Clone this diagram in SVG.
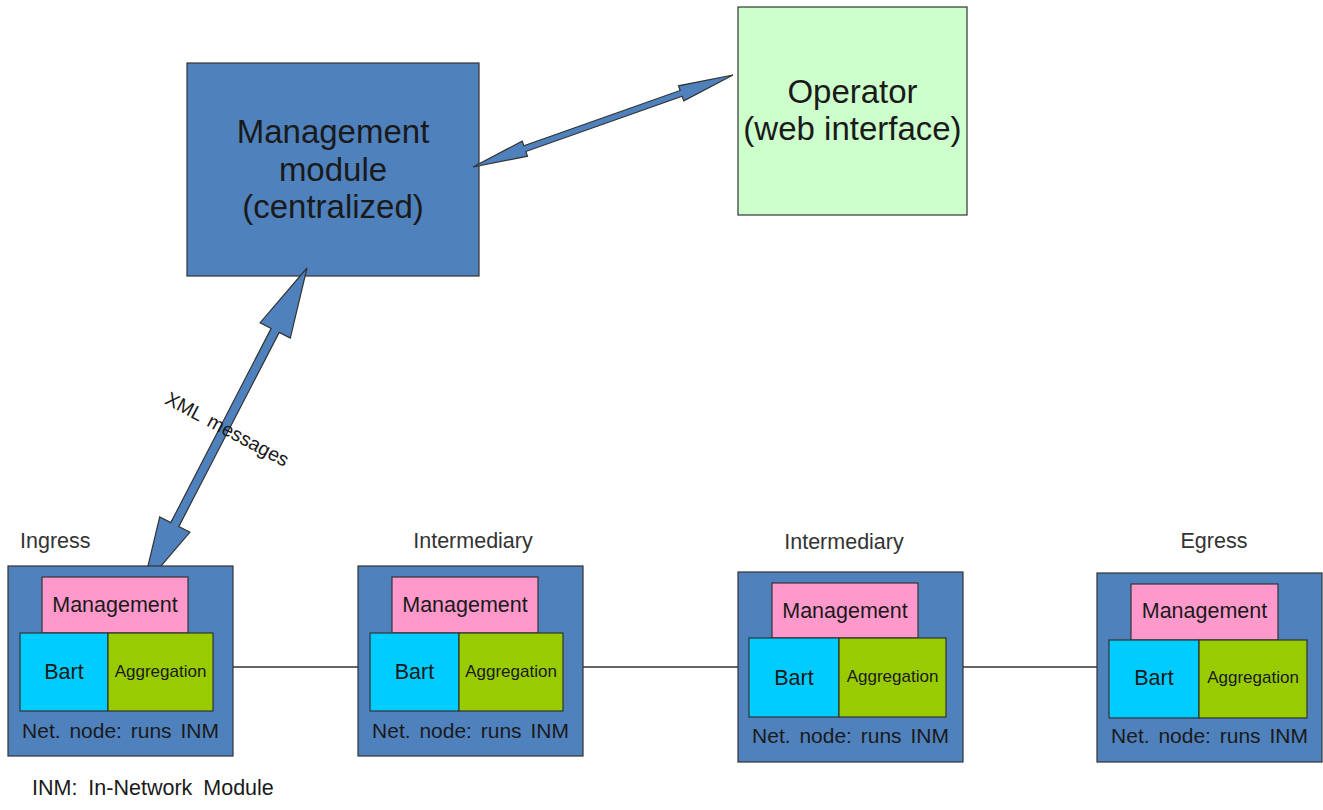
<svg xmlns="http://www.w3.org/2000/svg" width="1323" height="810" viewBox="0 0 1323 810">
<style>
text{font-family:"Liberation Sans",Arial,sans-serif;fill:#1a1a1a}
.outer{fill:#4f81bd;stroke:#333;stroke-width:1.2}
.mg{fill:#ff99cc;stroke:#333;stroke-width:1.2}
.bart{fill:#00ccff;stroke:#333;stroke-width:1.2}
.agg{fill:#99cc00;stroke:#333;stroke-width:1.2}
.t21{font-size:21.5px;text-anchor:middle}
.t17{font-size:17px;text-anchor:middle}
.net{font-size:21px;text-anchor:middle;word-spacing:3px}
.lbl{font-size:21.5px;fill:#333}
.big{font-size:33px;text-anchor:middle}
.link{stroke:#333;stroke-width:1.5;fill:none}
.arrow{fill:#4f81bd;stroke:#333;stroke-width:1.2;stroke-linejoin:miter}
</style>
<rect width="1323" height="810" fill="#fff"/>

<g id="connectors">
<line class="link" x1="233" y1="667" x2="358" y2="667"/>
<line class="link" x1="583" y1="667" x2="738" y2="667"/>
<line class="link" x1="963" y1="667" x2="1097" y2="667"/>
</g>

<g id="management-module">
<rect x="187" y="63" width="292" height="213" class="outer"/>
<text class="big" x="333" y="143">Management</text>
<text class="big" x="333" y="181">module</text>
<text class="big" x="333" y="218">(centralized)</text>
</g>

<g id="operator">
<rect x="738" y="7" width="229" height="208" fill="#ccffcc" stroke="#333" stroke-width="1.2"/>
<text class="big" x="852.5" y="103">Operator</text>
<text class="big" x="852.5" y="140">(web interface)</text>
</g>

<g id="arrows">
<polygon class="arrow" points="473,167 527.5,156.2 525.85,151.5 682.15,96.2 683.8,100.9 733,75 678.5,85.8 680.15,90.5 523.85,145.8 522.2,141.1"/>
<polygon class="arrow" points="143,587 189.9,532.3 178.8,526.6 279.2,332.4 290.3,338.1 307,268 260.1,322.7 271.2,328.4 170.8,522.6 159.7,516.9"/>
<text x="224" y="435" font-size="19.5" text-anchor="middle" transform="rotate(28 224 435)" word-spacing="3">XML messages</text>
</g>

<g id="node-ingress">
<text class="lbl" x="20" y="548">Ingress</text>
<rect x="8" y="566" width="225" height="190" class="outer"/>
<rect x="42" y="577" width="146" height="56" class="mg"/>
<rect x="20" y="633" width="88" height="78" class="bart"/>
<rect x="108" y="633" width="105" height="78" class="agg"/>
<text class="t21" x="115" y="612">Management</text>
<text class="t21" x="64" y="679">Bart</text>
<text class="t17" x="160.5" y="677">Aggregation</text>
<text class="net" x="120.5" y="738">Net. node: runs INM</text>
</g>

<g id="node-intermediary-1">
<text class="lbl" x="473" y="548" text-anchor="middle">Intermediary</text>
<rect x="358" y="566" width="225" height="190" class="outer"/>
<rect x="392" y="577" width="146" height="56" class="mg"/>
<rect x="370" y="633" width="89" height="78" class="bart"/>
<rect x="459" y="633" width="104" height="78" class="agg"/>
<text class="t21" x="465" y="612">Management</text>
<text class="t21" x="414.5" y="679">Bart</text>
<text class="t17" x="511" y="677">Aggregation</text>
<text class="net" x="470.5" y="738">Net. node: runs INM</text>
</g>

<g id="node-intermediary-2">
<text class="lbl" x="844" y="549" text-anchor="middle">Intermediary</text>
<rect x="738" y="572" width="225" height="190" class="outer"/>
<rect x="772" y="583" width="146" height="55" class="mg"/>
<rect x="749" y="638" width="90" height="79" class="bart"/>
<rect x="839" y="638" width="107" height="79" class="agg"/>
<text class="t21" x="845" y="618">Management</text>
<text class="t21" x="794" y="685">Bart</text>
<text class="t17" x="892.5" y="682">Aggregation</text>
<text class="net" x="850.5" y="743">Net. node: runs INM</text>
</g>

<g id="node-egress">
<text class="lbl" x="1214" y="548" text-anchor="middle">Egress</text>
<rect x="1097" y="573" width="225" height="189" class="outer"/>
<rect x="1131" y="584" width="147" height="56" class="mg"/>
<rect x="1109" y="640" width="90" height="78" class="bart"/>
<rect x="1199" y="640" width="108" height="78" class="agg"/>
<text class="t21" x="1204.5" y="618">Management</text>
<text class="t21" x="1154" y="685">Bart</text>
<text class="t17" x="1253" y="683">Aggregation</text>
<text class="net" x="1209.5" y="743">Net. node: runs INM</text>
</g>

<g id="legend">
<text x="32" y="795" font-size="21.5" fill="#333" word-spacing="5">INM: In-Network Module</text>
</g>
</svg>
